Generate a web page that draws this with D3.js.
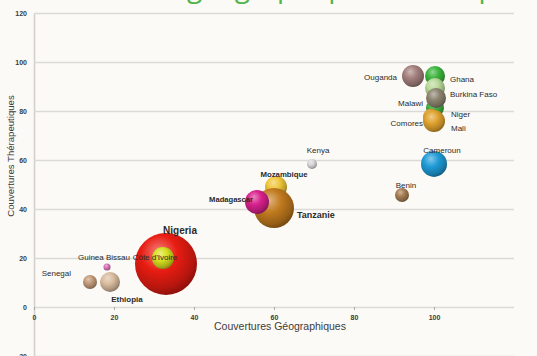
<!DOCTYPE html>
<html><head><meta charset="utf-8">
<script src="https://cdn.jsdelivr.net/npm/d3@7"></script>
<style>
html,body{margin:0;padding:0;background:#fcfaf6;}
svg{display:block;}
</style></head>
<body>
<svg id="chart" width="537" height="356"></svg>
<script>
// ---- data ----
const countries = ["Nigeria","Côte d'Ivoire","Guinea Bissau","Senegal","Ethiopia",
  "Mozambique","Tanzanie","Madagascar","Kenya","Benin","Cameroun",
  "Ouganda","Ghana","Niger","Burkina Faso","Malawi","Comores","Mali"];
const geoCoverage = [33, 32.25, 18.25, 14, 19, 60.5, 60, 55.75, 69.5, 92, 100,
  94.75, 100.25, 100.25, 100.25, 100.5, 99.25, 100];
const therCoverage = [17.6, 20, 16.3, 10.2, 10.2, 49, 40.4, 42.9, 58.4, 45.7, 58.4,
  94.3, 94.3, 81.2, 89.4, 85.3, 77.6, 75.9];
const bubbleSize = [100, 12.6, 1.3, 5.1, 10.4, 12.6, 41.6, 15, 2.6, 5.1, 17.6,
  12.6, 10.4, 8.4, 10.4, 10.4, 6.7, 12.6];
const xTicks = [0, 20, 40, 60, 80, 100];
const yTicks = [-20, 0, 20, 40, 60, 80, 100, 120];
const xTitle = "Couvertures Géographiques";
const yTitle = "Couvertures Thérapeutiques";
const topTitle = "Couverture géographique et thérapeutique";

// ---- styles (not data) ----
const colors = {"Nigeria":"#e81c12","Côte d'Ivoire":"#d8e020","Guinea Bissau":"#d873b8",
  "Senegal":"#c29a78","Ethiopia":"#d9bc9e","Mozambique":"#efc63a","Tanzanie":"#c17a1e",
  "Madagascar":"#d8208c","Kenya":"#d8d8d8","Benin":"#a57c52","Cameroun":"#1e9bd7",
  "Ouganda":"#a27f7c","Ghana":"#3db53d","Niger":"#3fae3f","Burkina Faso":"#b9d99a",
  "Malawi":"#8c846f","Comores":"#d99a30","Mali":"#e0a22e"};
// label placement: [dx, dy, anchor, fontSize, bold]
const labelPos = {"Nigeria":[14,-33,"middle",10,true],"Côte d'Ivoire":[-8,0,"middle",8,false],
  "Guinea Bissau":[23,-9,"end",8,false],"Senegal":[-19,-8,"end",8,false],
  "Ethiopia":[17,18,"middle",8,true],"Madagascar":[-4,-2,"end",7.6,true],
  "Mozambique":[8,-12,"middle",7.8,true],"Tanzanie":[23,8,"start",9,true],
  "Kenya":[6,-13,"middle",8,false],"Benin":[4,-9,"middle",8,false],
  "Cameroun":[8,-13,"middle",8,false],"Ouganda":[-16,2,"end",8,false],
  "Ghana":[15,4,"start",8,false],"Burkina Faso":[15,7,"start",8,false],
  "Malawi":[-13,6,"end",8,false],"Niger":[16,7,"start",8,false],
  "Comores":[-8,7,"end",8,false],"Mali":[17,8,"start",8,false]};

const svg = d3.select("#chart");
const x = d3.scaleLinear().domain([0,120]).range([34,514]);
const y = d3.scaleLinear().domain([-20,120]).range([356,13]);
const r = d3.scaleSqrt().domain([0,100]).range([0,31]);

// green title, cut by the top edge as in the reference
const tt = svg.append("text").attr("y",-3).attr("font-family","Open Sans, sans-serif")
  .attr("font-size",28).attr("fill","#4fb546").text(topTitle);
const gi = topTitle.indexOf("g");
const gx = tt.node().getStartPositionOfChar(gi).x;
tt.attr("x", 187 - gx);

// y axis with gridlines
const yAxis = svg.append("g").attr("transform",`translate(${x(0)},0)`)
  .call(d3.axisLeft(y).tickValues(yTicks).tickSizeInner(-(x(120)-x(0))).tickSizeOuter(0).tickPadding(7));
yAxis.select(".domain").attr("stroke","#d4d1cd").attr("stroke-width",1.6);
yAxis.selectAll(".tick line").attr("stroke","#dcdad6").attr("stroke-width",1.5);
yAxis.selectAll(".tick text").attr("font-family","Liberation Sans, Arial, sans-serif")
  .attr("font-size",7).attr("font-weight","bold").attr("fill","#3a3a3a");

// x axis at zero
const xAxis = svg.append("g").attr("transform",`translate(0,${y(0)})`)
  .call(d3.axisBottom(x).tickValues(xTicks).tickSizeInner(3).tickSizeOuter(0).tickPadding(5));
xAxis.select(".domain").remove();
xAxis.selectAll(".tick line").attr("stroke","#aaa");
xAxis.selectAll(".tick text").attr("font-family","Liberation Sans, Arial, sans-serif")
  .attr("font-size",7).attr("font-weight","bold").attr("fill","#3a3a3a");

// axis titles
svg.append("text").attr("x",280).attr("y",330).attr("text-anchor","middle")
  .attr("font-family","Liberation Sans, Arial, sans-serif").attr("font-size",10.5)
  .attr("fill","#3c3c3c").text(xTitle);
svg.append("text").attr("transform","translate(14,156) rotate(-90)").attr("text-anchor","middle")
  .attr("font-family","Liberation Sans, Arial, sans-serif").attr("font-size",9.6)
  .attr("fill","#3c3c3c").text(yTitle);

// gradients for sphere look
const defs = svg.append("defs");
countries.forEach((c,i)=>{
  const base = d3.color(colors[c]);
  const g = defs.append("radialGradient").attr("id","g"+i)
    .attr("cx","40%").attr("cy","35%").attr("r","65%").attr("fx","38%").attr("fy","30%");
  g.append("stop").attr("offset","0%").attr("stop-color", d3.interpolateRgb(base,"#fff")(0.45));
  g.append("stop").attr("offset","45%").attr("stop-color", base.formatHex());
  g.append("stop").attr("offset","85%").attr("stop-color", base.darker(0.7).formatHex());
  g.append("stop").attr("offset","100%").attr("stop-color", base.darker(1.3).formatHex());
});

const data = countries.map((c,i)=>({c, i, gx:geoCoverage[i], ty:therCoverage[i], s:bubbleSize[i]}));
svg.append("g").selectAll("circle").data(data).join("circle")
  .attr("cx",d=>x(d.gx)).attr("cy",d=>y(d.ty)).attr("r",d=>r(d.s))
  .attr("fill",d=>`url(#g${d.i})`);

svg.append("g").selectAll("text").data(data).join("text")
  .attr("x",d=>x(d.gx)+labelPos[d.c][0]).attr("y",d=>y(d.ty)+labelPos[d.c][1])
  .attr("text-anchor",d=>labelPos[d.c][2]).attr("font-size",d=>labelPos[d.c][3])
  .attr("font-weight",d=>labelPos[d.c][4]?"bold":"normal")
  .attr("font-family","Liberation Sans, Arial, sans-serif").attr("fill","#2a2a2a")
  .attr("dominant-baseline","middle").text(d=>d.c);
</script>
</body></html>
